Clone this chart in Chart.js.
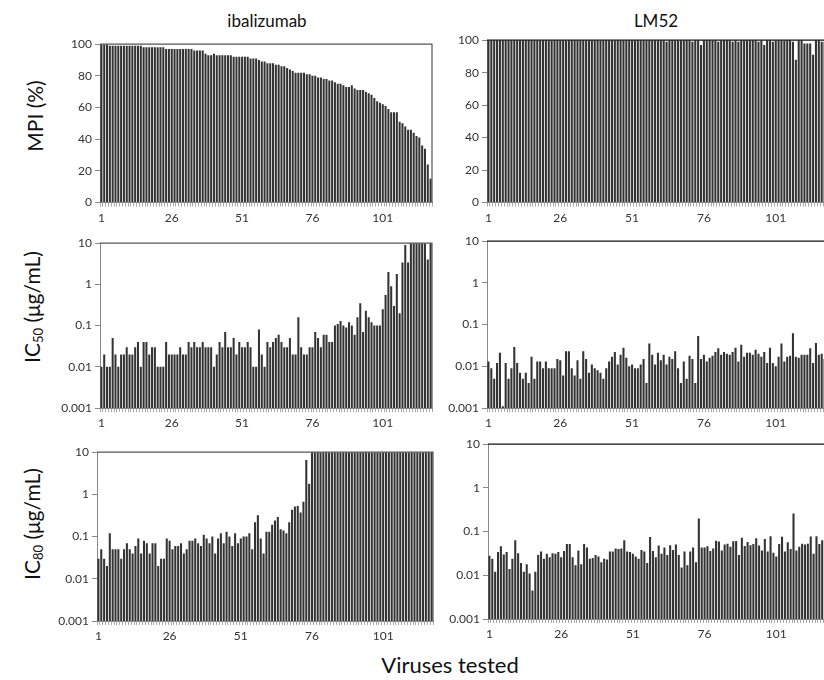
<!DOCTYPE html>
<html>
<head>
<meta charset="utf-8">
<script src="https://cdn.jsdelivr.net/npm/chart.js@4.4.1/dist/chart.umd.min.js"></script>
<style>
  html, body { margin: 0; padding: 0; background: #fff; }
  body { width: 824px; height: 680px; position: relative; overflow: hidden; font-family: 'Lato', 'Liberation Sans', sans-serif; color: #111; }
  .panel { position: absolute; }
  .title { position: absolute; transform: translate(-50%, -50%); font-size: 17px; white-space: nowrap; }
  .ylab { position: absolute; transform: translate(-50%, -50%) rotate(-90deg); font-size: 21px; white-space: nowrap; }
  .ylab sub { font-size: 13px; vertical-align: -3px; }
  .xlab { position: absolute; transform: translate(-50%, -50%); font-size: 22px; white-space: nowrap; }
</style>
</head>
<body>
<div class="title" style="left:267px; top:20px;">ibalizumab</div>
<div class="title" style="left:656px; top:20px;">LM52</div>
<div class="ylab" style="left:34px; top:116px;">MPI (%)</div>
<div class="ylab" style="left:32px; top:307px;">IC<sub>50</sub> (μg/mL)</div>
<div class="ylab" style="left:32px; top:524px;">IC<sub>80</sub> (μg/mL)</div>
<div class="xlab" style="left:450px; top:664px;">Viruses tested</div>

<div class="panel" id="pA"><canvas id="cA"></canvas></div>
<div class="panel" id="pB"><canvas id="cB"></canvas></div>
<div class="panel" id="pC"><canvas id="cC"></canvas></div>
<div class="panel" id="pD"><canvas id="cD"></canvas></div>
<div class="panel" id="pE"><canvas id="cE"></canvas></div>
<div class="panel" id="pF"><canvas id="cF"></canvas></div>

<script>
// --- data (118 viruses) ---
const virusIds = Array.from({ length: 118 }, (_, i) => String(i + 1));
const xTickLabels = ['1', '26', '51', '76', '101'];
const mpiTicks = [0, 20, 40, 60, 80, 100];
const logTicks = [0.001, 0.01, 0.1, 1, 10];

const mpiIbalizumab = [
  100, 100, 100, 99, 99, 99, 99, 99, 99, 99, 99, 99, 99, 99, 99,
  98, 98, 98, 98, 98, 98, 98, 98,
  97, 97, 97, 97, 97, 97, 97, 97, 97, 97,
  96, 96, 96, 96,
  94, 93, 93, 94, 93, 93, 93, 93, 93, 93,
  92, 92, 92, 92, 92, 92,
  91, 91, 91,
  90, 89, 89, 88, 88, 88, 87, 87, 86, 86,
  85, 84, 83, 82, 82, 82, 82, 81, 81, 80,
  80, 79, 79, 78, 78, 77, 77, 76, 75, 75,
  74, 73, 73, 74, 72, 71, 71, 71, 70, 69,
  68, 66, 64, 63, 62, 61, 59, 57, 57, 57,
  51, 50, 48, 46, 46, 44, 42, 41, 36, 34,
  24, 15
];

const mpiLM52 = [
  100, 100, 100, 100, 100, 100, 100, 100, 100, 100,
  100, 100, 100, 100, 100, 100, 100, 100, 100, 100,
  100, 100, 100, 100, 100, 100, 100, 100, 100, 100,
  100, 100, 100, 100, 100, 100, 100, 100, 100, 100,
  100, 100, 100, 100, 100, 100, 100, 100, 100, 100,
  100, 100, 100, 100, 100, 100, 100, 100, 100, 100,
  100, 100, 99, 100, 100, 100, 100, 100, 100, 100,
  100, 99, 100, 100, 97, 100, 100, 100, 100, 100,
  99, 100, 100, 100, 100, 99, 100, 99, 100, 100,
  100, 100, 100, 100, 99, 100, 97, 100, 100, 99,
  100, 100, 100, 100, 100, 100, 99, 88, 100, 100,
  98, 98, 98, 91, 100, 100, 99, 99
];

const ic50Ibalizumab = [
  0.01, 0.02, 0.01, 0.01, 0.05, 0.02, 0.01, 0.02, 0.02, 0.03,
  0.02, 0.02, 0.03, 0.04, 0.01, 0.04, 0.04, 0.02, 0.03, 0.03,
  0.01, 0.01, 0.01, 0.04, 0.02, 0.02, 0.02, 0.02, 0.03, 0.02,
  0.02, 0.04, 0.03, 0.04, 0.03, 0.03, 0.04, 0.03, 0.03, 0.03,
  0.01, 0.02, 0.04, 0.03, 0.07, 0.03, 0.03, 0.05, 0.02, 0.04,
  0.03, 0.03, 0.04, 0.03, 0.01, 0.01, 0.08, 0.02, 0.01, 0.04,
  0.03, 0.04, 0.05, 0.06, 0.04, 0.03, 0.03, 0.05, 0.02, 0.02,
  0.16, 0.03, 0.02, 0.02, 0.03, 0.03, 0.07, 0.05, 0.03, 0.06,
  0.06, 0.04, 0.04, 0.10, 0.11, 0.13, 0.10, 0.09, 0.12, 0.10,
  0.06, 0.16, 0.35, 0.07, 0.23, 0.16, 0.12, 0.10, 0.10, 0.10,
  0.25, 0.55, 2.0, 0.9, 0.3, 1.8, 0.2, 3.4, 9, 3.4,
  10, 10, 10, 10, 10, 10, 4, 10
];

const ic50LM52 = [
  0.013, 0.009, 0.005, 0.012, 0.021, 0.0011, 0.012, 0.005, 0.009, 0.029,
  0.012, 0.007, 0.005, 0.007, 0.004, 0.017, 0.005, 0.013, 0.013, 0.009,
  0.013, 0.009, 0.009, 0.009, 0.015, 0.014, 0.006, 0.023, 0.023, 0.009,
  0.006, 0.014, 0.005, 0.023, 0.015, 0.007, 0.011, 0.009, 0.008, 0.007,
  0.005, 0.009, 0.013, 0.017, 0.022, 0.011, 0.019, 0.028, 0.016, 0.010,
  0.011, 0.009, 0.009, 0.011, 0.015, 0.004, 0.035, 0.019, 0.011, 0.021,
  0.014, 0.019, 0.011, 0.017, 0.015, 0.023, 0.009, 0.004, 0.013, 0.005,
  0.018, 0.015, 0.004, 0.053, 0.015, 0.019, 0.013, 0.016, 0.018, 0.022,
  0.027, 0.019, 0.022, 0.020, 0.019, 0.022, 0.028, 0.013, 0.033, 0.017,
  0.021, 0.021, 0.019, 0.025, 0.020, 0.017, 0.022, 0.012, 0.028, 0.012,
  0.010, 0.017, 0.035, 0.013, 0.017, 0.018, 0.062, 0.017, 0.016, 0.019,
  0.019, 0.019, 0.027, 0.012, 0.036, 0.019, 0.020, 0.015
];

const ic80Ibalizumab = [
  0.03, 0.05, 0.03, 0.02, 0.12, 0.05, 0.05, 0.05, 0.03, 0.05,
  0.07, 0.05, 0.04, 0.06, 0.09, 0.04, 0.08, 0.07, 0.04, 0.07,
  0.07, 0.02, 0.03, 0.03, 0.09, 0.08, 0.05, 0.06, 0.06, 0.07,
  0.04, 0.05, 0.08, 0.08, 0.09, 0.07, 0.06, 0.11, 0.09, 0.07,
  0.10, 0.04, 0.09, 0.12, 0.07, 0.13, 0.10, 0.06, 0.12, 0.07,
  0.09, 0.10, 0.10, 0.12, 0.05, 0.22, 0.32, 0.09, 0.04, 0.13,
  0.13, 0.19, 0.24, 0.29, 0.15, 0.14, 0.12, 0.22, 0.43, 0.52,
  0.53, 0.37, 0.67, 6.5, 1.8, 10, 10, 10, 10, 10,
  10, 10, 10, 10, 10, 10, 10, 10, 10, 10,
  10, 10, 10, 10, 10, 10, 10, 10, 10, 10,
  10, 10, 10, 10, 10, 10, 10, 10, 10, 10,
  10, 10, 10, 10, 10, 10, 10, 10
];

const ic80LM52 = [
  0.028, 0.024, 0.012, 0.034, 0.046, 0.030, 0.034, 0.014, 0.024, 0.063,
  0.032, 0.019, 0.012, 0.018, 0.011, 0.0045, 0.012, 0.029, 0.035, 0.024,
  0.031, 0.026, 0.032, 0.031, 0.034, 0.026, 0.036, 0.052, 0.052, 0.026,
  0.017, 0.037, 0.018, 0.052, 0.043, 0.024, 0.025, 0.029, 0.027, 0.020,
  0.024, 0.023, 0.035, 0.035, 0.041, 0.040, 0.041, 0.063, 0.035, 0.034,
  0.031, 0.027, 0.024, 0.038, 0.035, 0.019, 0.075, 0.036, 0.026, 0.048,
  0.031, 0.043, 0.029, 0.049, 0.038, 0.051, 0.029, 0.015, 0.035, 0.017,
  0.035, 0.043, 0.020, 0.20, 0.043, 0.043, 0.046, 0.036, 0.041, 0.062,
  0.059, 0.037, 0.051, 0.053, 0.045, 0.060, 0.061, 0.029, 0.072, 0.047,
  0.058, 0.049, 0.052, 0.070, 0.048, 0.037, 0.068, 0.035, 0.078, 0.033,
  0.027, 0.052, 0.076, 0.035, 0.057, 0.040, 0.26, 0.037, 0.045, 0.053,
  0.051, 0.053, 0.077, 0.031, 0.078, 0.052, 0.063, 0.060
];

// --- layout ---
const Y_W = 52;   // y axis band width
const X_H = 24;   // x axis band height
const PAD_T = 8;
const PAD_R = 3;

// plot area boxes: left, top, right, bottom
const panels = [
  { id: 'A', box: [100, 41.5, 432, 202], data: mpiIbalizumab, log: false, frameRight: true,  frameColor: '#555' },
  { id: 'B', box: [487, 37.5, 826, 202], data: mpiLM52,       log: false, frameRight: false, frameColor: '#111' },
  { id: 'C', box: [100, 241, 432, 408],  data: ic50Ibalizumab, log: true, frameRight: true,  frameColor: '#555' },
  { id: 'D', box: [487, 239, 826, 408],  data: ic50LM52,      log: true,  frameRight: false, frameColor: '#111' },
  { id: 'E', box: [97, 450, 433, 621],   data: ic80Ibalizumab, log: true, frameRight: true,  frameColor: '#555' },
  { id: 'F', box: [487.5, 442, 826, 619], data: ic80LM52,     log: true,  frameRight: false, frameColor: '#111' },
];

const frameLine = {
  id: 'frameLine',
  afterDatasetsDraw(chart, args, opts) {
    const { ctx, chartArea: a } = chart;
    ctx.save();
    ctx.strokeStyle = opts.color;
    ctx.lineWidth = 1.2;
    ctx.beginPath();
    ctx.moveTo(a.left, a.top);
    ctx.lineTo(a.right, a.top);
    if (opts.right) { ctx.lineTo(a.right, a.bottom); }
    ctx.stroke();
    ctx.restore();
  }
};

const tickFont = { family: 'Lato', size: 12 };

function yScale(log) {
  const common = {
    grid: { drawOnChartArea: false, drawTicks: true, tickLength: 5, color: '#888' },
    border: { color: '#888', width: 1 },
    afterFit: s => { s.width = Y_W; },
  };
  if (!log) {
    return Object.assign(common, {
      type: 'linear', min: 0, max: 100,
      afterBuildTicks: s => { s.ticks = mpiTicks.map(v => ({ value: v })); },
      ticks: { font: tickFont, color: '#333', padding: 3, callback: v => String(v) },
    });
  }
  return Object.assign(common, {
    type: 'logarithmic', min: 0.001, max: 10,
    afterBuildTicks: s => { s.ticks = logTicks.map(v => ({ value: v })); },
    ticks: { font: tickFont, color: '#333', padding: 3, callback: v => String(v) },
  });
}

panels.forEach(p => {
  const [l, t, r, b] = p.box;
  const div = document.getElementById('p' + p.id);
  div.style.left = (l - Y_W) + 'px';
  div.style.top = (t - PAD_T) + 'px';
  div.style.width = (r - l + Y_W + PAD_R) + 'px';
  div.style.height = (b - t + PAD_T + X_H) + 'px';

  new Chart(document.getElementById('c' + p.id), {
    type: 'bar',
    data: {
      labels: virusIds,
      datasets: [{
        data: p.data,
        backgroundColor: '#333',
        borderWidth: 0,
        barPercentage: 0.85,
        categoryPercentage: 0.85,
      }],
    },
    options: {
      responsive: true,
      maintainAspectRatio: false,
      animation: false,
      events: [],
      layout: { padding: { top: PAD_T, right: PAD_R, left: 0, bottom: 0 } },
      plugins: {
        legend: { display: false },
        tooltip: { enabled: false },
        frameLine: { color: p.frameColor, right: p.frameRight },
      },
      scales: {
        x: {
          type: 'category',
          offset: true,
          grid: { drawOnChartArea: false, drawTicks: true, tickLength: 4, color: '#aaa', offset: true },
          border: { color: '#888', width: 1 },
          ticks: {
            autoSkip: false, maxRotation: 0, minRotation: 0, padding: 4,
            font: tickFont, color: '#333',
            callback: (v, i) => xTickLabels.includes(virusIds[i]) ? virusIds[i] : '',
          },
          afterFit: s => { s.height = X_H; },
        },
        y: yScale(p.log),
      },
    },
    plugins: [frameLine],
  });
});
</script>
</body>
</html>
